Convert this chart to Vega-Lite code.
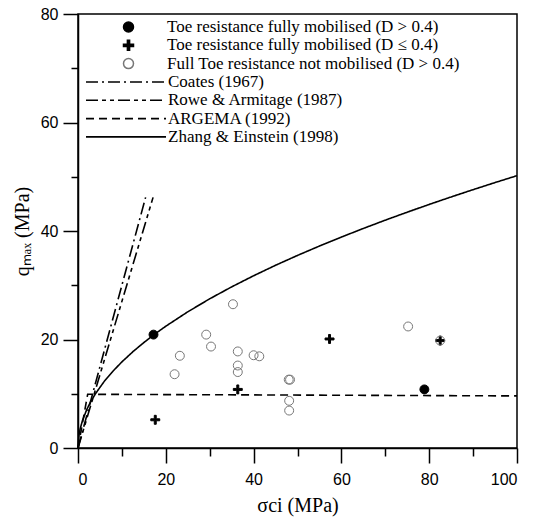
{
  "$schema": "https://vega.github.io/schema/vega-lite/v6.json",
  "width": 439,
  "height": 434,
  "autosize": {"type": "none"},
  "padding": {"left": 78, "top": 14, "right": 16, "bottom": 80},
  "background": "white",
  "config": {
    "view": {"stroke": "black", "strokeWidth": 1.5},
    "axis": {
      "domainColor": "black",
      "domainWidth": 1.5,
      "tickColor": "black",
      "tickWidth": 1.5,
      "grid": false,
      "labelFont": "Liberation Sans",
      "labelFontSize": 16,
      "labelColor": "black",
      "titleFont": "Liberation Serif",
      "titleFontSize": 20,
      "titleFontWeight": "normal",
      "titleColor": "black"
    },
    "legend": {
      "labelFont": "Liberation Serif",
      "labelFontSize": 17,
      "labelColor": "black",
      "labelLimit": 0,
      "padding": 0,
      "titlePadding": 0
    }
  },
  "datasets": {
    "points": [
      {"sigma": 17.2, "q": 20.9, "type": "Toe resistance fully mobilised (D > 0.4)"},
      {"sigma": 78.9, "q": 10.8, "type": "Toe resistance fully mobilised (D > 0.4)"},
      {"sigma": 17.6, "q": 5.2, "type": "Toe resistance fully mobilised (D ≤ 0.4)"},
      {"sigma": 36.4, "q": 10.8, "type": "Toe resistance fully mobilised (D ≤ 0.4)"},
      {"sigma": 57.3, "q": 20.1, "type": "Toe resistance fully mobilised (D ≤ 0.4)"},
      {"sigma": 82.5, "q": 19.8, "type": "Toe resistance fully mobilised (D ≤ 0.4)"},
      {"sigma": 82.5, "q": 19.8, "type": "Full Toe resistance not mobilised (D > 0.4)"},
      {"sigma": 35.3, "q": 26.5, "type": "Full Toe resistance not mobilised (D > 0.4)"},
      {"sigma": 75.2, "q": 22.4, "type": "Full Toe resistance not mobilised (D > 0.4)"},
      {"sigma": 29.2, "q": 20.9, "type": "Full Toe resistance not mobilised (D > 0.4)"},
      {"sigma": 30.3, "q": 18.7, "type": "Full Toe resistance not mobilised (D > 0.4)"},
      {"sigma": 23.2, "q": 17.0, "type": "Full Toe resistance not mobilised (D > 0.4)"},
      {"sigma": 36.4, "q": 17.8, "type": "Full Toe resistance not mobilised (D > 0.4)"},
      {"sigma": 40.0, "q": 17.1, "type": "Full Toe resistance not mobilised (D > 0.4)"},
      {"sigma": 41.3, "q": 16.9, "type": "Full Toe resistance not mobilised (D > 0.4)"},
      {"sigma": 22.0, "q": 13.6, "type": "Full Toe resistance not mobilised (D > 0.4)"},
      {"sigma": 36.4, "q": 15.2, "type": "Full Toe resistance not mobilised (D > 0.4)"},
      {"sigma": 36.4, "q": 14.0, "type": "Full Toe resistance not mobilised (D > 0.4)"},
      {"sigma": 48.0, "q": 12.6, "type": "Full Toe resistance not mobilised (D > 0.4)"},
      {"sigma": 48.3, "q": 12.6, "type": "Full Toe resistance not mobilised (D > 0.4)"},
      {"sigma": 48.1, "q": 8.7, "type": "Full Toe resistance not mobilised (D > 0.4)"},
      {"sigma": 48.1, "q": 6.9, "type": "Full Toe resistance not mobilised (D > 0.4)"}
    ],
    "lines": [
      {"model": "Coates (1967)", "sigma": 0, "q": 0},
      {"model": "Coates (1967)", "sigma": 15.4, "q": 46.2},
      {"model": "Rowe & Armitage (1987)", "sigma": 0, "q": 0},
      {"model": "Rowe & Armitage (1987)", "sigma": 17.1, "q": 46.2},
      {"model": "ARGEMA (1992)", "sigma": 0, "q": 0},
      {"model": "ARGEMA (1992)", "sigma": 2.2, "q": 9.9},
      {"model": "ARGEMA (1992)", "sigma": 100, "q": 9.6},
      {"model": "Zhang & Einstein (1998)", "sigma": 0, "q": 0},
      {"model": "Zhang & Einstein (1998)", "sigma": 0.25, "q": 2.51},
      {"model": "Zhang & Einstein (1998)", "sigma": 0.5, "q": 3.55},
      {"model": "Zhang & Einstein (1998)", "sigma": 1, "q": 5.02},
      {"model": "Zhang & Einstein (1998)", "sigma": 2, "q": 7.1},
      {"model": "Zhang & Einstein (1998)", "sigma": 3, "q": 8.69},
      {"model": "Zhang & Einstein (1998)", "sigma": 4, "q": 10.04},
      {"model": "Zhang & Einstein (1998)", "sigma": 6, "q": 12.3},
      {"model": "Zhang & Einstein (1998)", "sigma": 8, "q": 14.2},
      {"model": "Zhang & Einstein (1998)", "sigma": 10, "q": 15.87},
      {"model": "Zhang & Einstein (1998)", "sigma": 12.5, "q": 17.75},
      {"model": "Zhang & Einstein (1998)", "sigma": 15, "q": 19.44},
      {"model": "Zhang & Einstein (1998)", "sigma": 17.5, "q": 21.0},
      {"model": "Zhang & Einstein (1998)", "sigma": 20, "q": 22.45},
      {"model": "Zhang & Einstein (1998)", "sigma": 25, "q": 25.1},
      {"model": "Zhang & Einstein (1998)", "sigma": 30, "q": 27.5},
      {"model": "Zhang & Einstein (1998)", "sigma": 35, "q": 29.7},
      {"model": "Zhang & Einstein (1998)", "sigma": 40, "q": 31.75},
      {"model": "Zhang & Einstein (1998)", "sigma": 45, "q": 33.68},
      {"model": "Zhang & Einstein (1998)", "sigma": 50, "q": 35.5},
      {"model": "Zhang & Einstein (1998)", "sigma": 55, "q": 37.23},
      {"model": "Zhang & Einstein (1998)", "sigma": 60, "q": 38.88},
      {"model": "Zhang & Einstein (1998)", "sigma": 65, "q": 40.47},
      {"model": "Zhang & Einstein (1998)", "sigma": 70, "q": 42.0},
      {"model": "Zhang & Einstein (1998)", "sigma": 75, "q": 43.47},
      {"model": "Zhang & Einstein (1998)", "sigma": 80, "q": 44.9},
      {"model": "Zhang & Einstein (1998)", "sigma": 85, "q": 46.28},
      {"model": "Zhang & Einstein (1998)", "sigma": 90, "q": 47.62},
      {"model": "Zhang & Einstein (1998)", "sigma": 95, "q": 48.93},
      {"model": "Zhang & Einstein (1998)", "sigma": 100, "q": 50.2}
    ]
  },
  "encoding": {
    "x": {
      "field": "sigma",
      "type": "quantitative",
      "scale": {"domain": [0, 100], "nice": false},
      "axis": {
        "title": "σci (MPa)",
        "values": [0, 10, 20, 30, 40, 50, 60, 70, 80, 90, 100],
        "labelExpr": "datum.value % 20 === 0 ? datum.label : ''",
        "tickSize": {"condition": {"test": "datum.value % 20 === 0", "value": 15}, "value": 8},
        "labelPadding": 8,
        "titlePadding": 8
      }
    },
    "y": {
      "field": "q",
      "type": "quantitative",
      "scale": {"domain": [0, 80], "nice": false},
      "axis": {
        "title": "qₘₐₓ (MPa)",
        "values": [0, 10, 20, 30, 40, 50, 60, 70, 80],
        "labelExpr": "datum.value % 20 === 0 ? datum.label : ''",
        "tickSize": {"condition": {"test": "datum.value % 20 === 0", "value": 15}, "value": 7},
        "labelPadding": 5,
        "titlePadding": 8
      }
    }
  },
  "layer": [
    {
      "data": {"name": "lines"},
      "mark": {"type": "line", "color": "black", "strokeWidth": 1.6},
      "encoding": {
        "order": {"field": "sigma", "type": "quantitative"},
        "strokeDash": {
          "field": "model",
          "type": "nominal",
          "scale": {
            "domain": ["Coates (1967)", "Rowe & Armitage (1987)", "ARGEMA (1992)", "Zhang & Einstein (1998)"],
            "range": [[12, 4, 2, 4], [12, 4, 4, 4, 4, 4], [8, 5], [1, 0]]
          },
          "legend": {
            "title": null,
            "orient": "none",
            "legendX": 7,
            "legendY": 59,
            "symbolType": "stroke",
            "symbolSize": 6400,
            "symbolStrokeColor": "black",
            "symbolStrokeWidth": 1.6,
            "labelOffset": 1,
            "clipHeight": 18,
            "rowPadding": 0.3
          }
        }
      }
    },
    {
      "data": {"name": "points"},
      "mark": {"type": "point", "filled": true, "size": 80, "strokeWidth": 1, "opacity": 1},
      "encoding": {
        "shape": {
          "field": "type",
          "type": "nominal",
          "scale": {
            "domain": ["Toe resistance fully mobilised (D > 0.4)", "Toe resistance fully mobilised (D ≤ 0.4)", "Full Toe resistance not mobilised (D > 0.4)"],
            "range": ["circle", "M-1,-0.22H-0.22V-1H0.22V-0.22H1V0.22H0.22V1H-0.22V0.22H-1Z", "circle"]
          },
          "legend": {
            "title": null,
            "orient": "none",
            "legendX": 42,
            "legendY": 4,
            "labelOffset": 30,
            "clipHeight": 18,
            "rowPadding": 0.3
          }
        },
        "fill": {
          "field": "type",
          "type": "nominal",
          "scale": {
            "domain": ["Toe resistance fully mobilised (D > 0.4)", "Toe resistance fully mobilised (D ≤ 0.4)", "Full Toe resistance not mobilised (D > 0.4)"],
            "range": ["black", "black", "transparent"]
          },
          "legend": {
            "title": null,
            "orient": "none",
            "legendX": 42,
            "legendY": 4,
            "labelOffset": 30,
            "clipHeight": 18,
            "rowPadding": 0.3
          }
        },
        "stroke": {
          "field": "type",
          "type": "nominal",
          "scale": {
            "domain": ["Toe resistance fully mobilised (D > 0.4)", "Toe resistance fully mobilised (D ≤ 0.4)", "Full Toe resistance not mobilised (D > 0.4)"],
            "range": ["black", "black", "#777777"]
          },
          "legend": {
            "title": null,
            "orient": "none",
            "legendX": 42,
            "legendY": 4,
            "labelOffset": 30,
            "clipHeight": 18,
            "rowPadding": 0.3
          }
        }
      }
    }
  ]
}
